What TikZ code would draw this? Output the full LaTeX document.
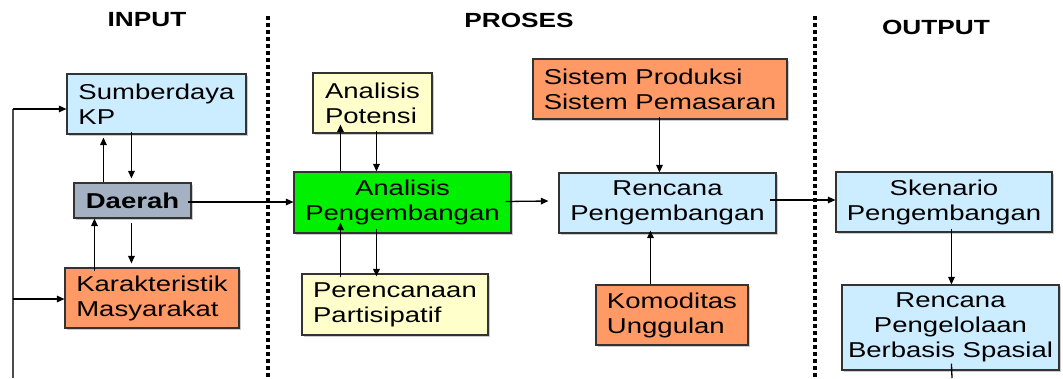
\documentclass[tikz,border=0pt]{standalone}
\usepackage{fontspec}
\setmainfont{Liberation Sans}[FakeStretch=1.28]
\usetikzlibrary{arrows.meta,calc,shadows}
\definecolor{skyfill}{HTML}{CCECFF}
\definecolor{orangefill}{HTML}{FF9966}
\definecolor{creamfill}{HTML}{FFFFCC}
\definecolor{greenfill}{HTML}{00F000}
\definecolor{slatefill}{HTML}{A3B1C2}
\begin{document}
\begin{tikzpicture}[x=1pt,y=-1pt,
  font=\fontsize{21.5}{25}\selectfont,
  box/.style={draw=black!80, line width=1.1pt, inner sep=0pt, align=center,
    drop shadow={shadow xshift=1.5pt, shadow yshift=-1.5pt, fill=black!40, opacity=0.5}},
  heading/.style={inner sep=0pt, font=\fontsize{20.5}{24}\selectfont\bfseries},
  arr/.style={line width=1.3pt, -{Triangle[length=7.5pt,width=6.5pt]}},
  link/.style={line width=1.3pt},
  divider/.style={line width=3.5pt, dash pattern=on 3.5pt off 3.5pt}]
\useasboundingbox (0,0) rectangle (1063,378);

% column headings and dividers
\node[heading] (hin) at (147,20) {INPUT};
\node[heading] (hpro) at (519,20) {PROSES};
\node[heading] (hout) at (936,27) {OUTPUT};
\draw[divider] (268,16) -- (268,378);
\draw[divider] (815,16) -- (815,378);

% input column
\node[box, fill=skyfill, minimum width=179pt, minimum height=60pt, align=left] (sumber) at (156.5,104) {Sumberdaya\\KP};
\node[box, fill=slatefill, minimum width=117pt, minimum height=35pt, font=\fontsize{21.5}{25}\selectfont\bfseries] (daerah) at (132.5,200.5) {Daerah};
\node[box, fill=orangefill, minimum width=174pt, minimum height=60pt, align=left] (karak) at (152,298) {Karakteristik\\Masyarakat};

% process column
\node[box, fill=creamfill, minimum width=119pt, minimum height=60pt, align=left] (potensi) at (372.5,103) {Analisis\\Potensi};
\node[box, fill=greenfill, minimum width=217pt, minimum height=61pt] (anpeng) at (402.5,202.5) {Analisis\\Pengembangan};
\node[box, fill=creamfill, minimum width=186pt, minimum height=61pt, align=left] (peren) at (395,304.5) {Perencanaan\\Partisipatif};
\node[box, fill=orangefill, minimum width=254pt, minimum height=60pt, align=left] (sistem) at (660,89) {Sistem Produksi\\Sistem Pemasaran};
\node[box, fill=skyfill, minimum width=217pt, minimum height=60pt] (rencana) at (667.5,203) {Rencana\\Pengembangan};
\node[box, fill=orangefill, minimum width=152pt, minimum height=60pt, align=left] (komod) at (672,315) {Komoditas\\Unggulan};

% output column
\node[box, fill=skyfill, minimum width=216pt, minimum height=60pt] (skenario) at (944,202) {Skenario\\Pengembangan};
\node[box, fill=skyfill, minimum width=217pt, minimum height=85pt] (rpeng) at (950.5,327.5) {Rencana\\Pengelolaan\\Berbasis Spasial};

% free ends at the lower edge
\coordinate (loopstart) at (13,378);
\coordinate (outend) at (952,378);

% feedback loop on the left
\draw[link, draw=black!70, line width=1.7pt] (loopstart) -- (13,109);
\draw[arr] (13,109) -- (sumber.west |- 0,109);
\draw[arr] (13,299) -- (karak.west |- 0,299);

% input links
\draw[arr] ($(daerah.north west)+(30,0)$) -- ($(sumber.south west)+(37,3)$);
\draw[arr] ($(sumber.south west)+(65,-3)$) -- ($(daerah.north west)+(58,-4)$);
\draw[arr] ($(karak.north west)+(30,4)$) -- ($(daerah.south west)+(21,0)$);
\draw[arr] ($(daerah.south west)+(58,4)$) -- ($(karak.north west)+(67,-4)$);
\draw[arr] ($(daerah.east)+(-4,1.5)$) -- (anpeng.west |- 0,202);

% process links
\draw[arr] ($(anpeng.north west)+(47,0)$) -- ($(potensi.south west)+(28,-9)$);
\draw[arr] ($(potensi.south west)+(64,-3)$) -- ($(anpeng.north west)+(83,0)$);
\draw[arr] ($(peren.north west)+(39,4)$) -- ($(anpeng.south west)+(47,-11)$);
\draw[arr] ($(anpeng.south west)+(83,-5)$) -- ($(peren.north west)+(75,3)$);
\draw[arr] ($(anpeng.east)+(-6,-1)$) -- ($(rencana.west)+(-10,-2)$);
\draw[arr] ($(sistem.south west)+(127,-3)$) -- ($(rencana.north west)+(101,0)$);
\draw[arr] ($(komod.north west)+(55,0)$) -- ($(rencana.south west)+(92,-3)$);

% output links
\draw[arr] ($(rencana.east)+(-7,-3)$) -- (skenario.west |- 0,200);
\draw[arr] ($(skenario.south west)+(116,-4)$) -- ($(rpeng.north west)+(110,0)$);
\draw[link] ($(rpeng.south west)+(110,-7)$) -- (outend);
\end{tikzpicture}
\end{document}
